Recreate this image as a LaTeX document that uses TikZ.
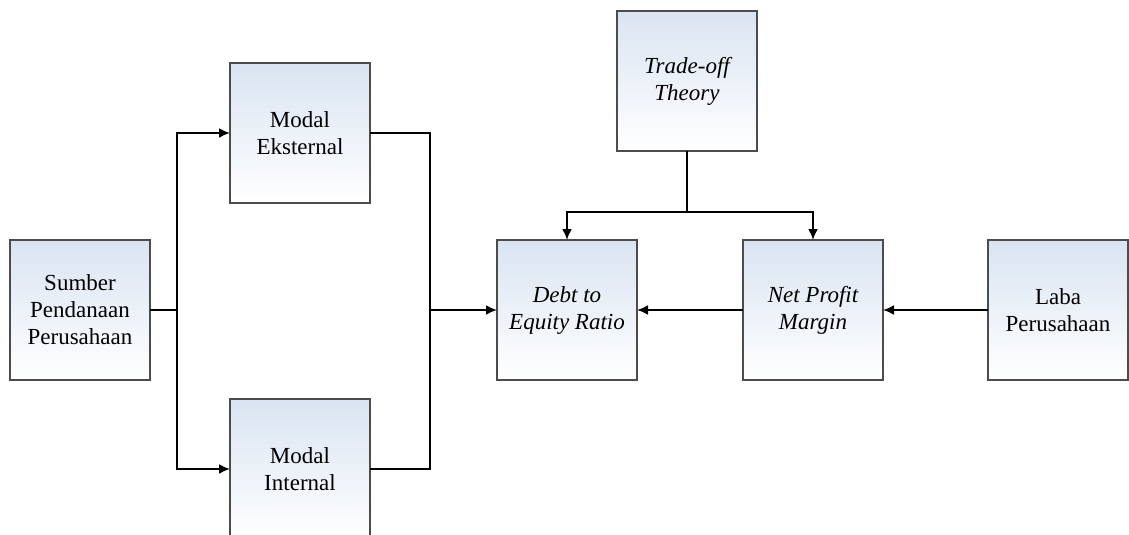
\documentclass[tikz,border=0pt]{standalone}
\usepackage{fontspec}
\setmainfont{Liberation Serif}
\usetikzlibrary{arrows.meta}
\definecolor{boxtop}{RGB}{218,228,242}
\begin{document}
\begin{tikzpicture}[x=1pt,y=-1pt,
  box/.style={draw=black!70, line width=1.8pt, minimum width=140pt, minimum height=140pt,
    inner sep=0pt, outer sep=0pt, align=center, top color=boxtop, bottom color=white,
    font=\fontsize{23}{27}\selectfont},
  conn/.style={line width=2pt, black},
  arr/.style={conn, -{Latex[length=11pt,width=10pt]}}]
\useasboundingbox (0,0) rectangle (1129,535);
\clip (0,0) rectangle (1129,535);
\fill[white] (0,0) rectangle (1129,535);
\node[box] (src) at (80,310) {Sumber\\Pendanaan\\Perusahaan};
\node[box] (ext) at (300,133) {Modal\\Eksternal};
\node[box] (int) at (300,469) {Modal\\Internal};
\node[box] (trade) at (687,81) {\itshape Trade-off\\\itshape Theory};
\node[box] (der) at (567,310) {\itshape Debt to\\\itshape Equity Ratio};
\node[box] (npm) at (813,310) {\itshape Net Profit\\\itshape Margin};
\node[box] (laba) at (1058,310) {Laba\\Perusahaan};
\coordinate (sx) at (177,310);
\coordinate (jx) at (430,310);
\coordinate (tj) at (687,212);
\draw[conn] (src.east) -- (sx);
\draw[arr] (sx) |- (ext.west);
\draw[arr] (sx) |- (int.west);
\draw[conn] (ext.east) -| (jx);
\draw[conn] (int.east) -| (jx);
\draw[arr] (jx) -- (der.west);
\draw[conn] (trade.south) -- (tj);
\draw[arr] (tj) -| (der.north);
\draw[arr] (tj) -| (npm.north);
\draw[arr] (npm.west) -- (der.east);
\draw[arr] (laba.west) -- (npm.east);
\end{tikzpicture}
\end{document}
